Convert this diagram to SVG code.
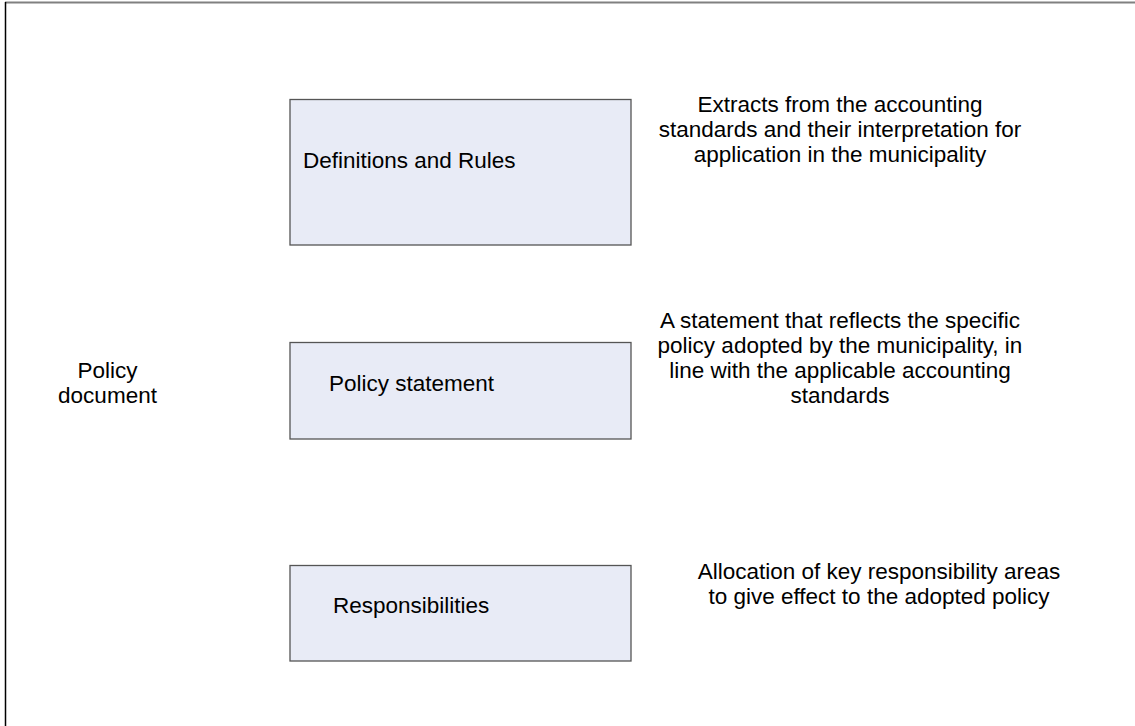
<svg xmlns="http://www.w3.org/2000/svg" width="1135" height="726" viewBox="0 0 1135 726">
<style>
.box{fill:#E8EBF6;stroke:#555;stroke-width:1.3}
text{font-family:"Liberation Sans",Arial,sans-serif;font-size:22.5px;fill:#000}
.c{text-anchor:middle}
</style>
<rect x="0" y="0" width="1135" height="726" fill="#fff"/>
<g id="frame">
<line x1="5" y1="2.5" x2="1135" y2="2.5" stroke="#808080" stroke-width="2"/>
<line x1="5.5" y1="2" x2="5.5" y2="726" stroke="#000" stroke-width="1.5"/>
</g>
<g id="policy-document">
<text class="c" x="107.5" y="378">Policy</text>
<text class="c" x="107.5" y="403">document</text>
</g>
<g id="definitions">
<rect class="box" x="290" y="99.5" width="341" height="145.5"/>
<text x="303" y="168">Definitions and Rules</text>
</g>
<g id="policy-statement">
<rect class="box" x="290" y="342.5" width="341" height="96.5"/>
<text x="329" y="391">Policy statement</text>
</g>
<g id="responsibilities">
<rect class="box" x="290" y="565.5" width="341" height="95.5"/>
<text x="333" y="613">Responsibilities</text>
</g>
<g id="desc-definitions">
<text class="c" x="840" y="112">Extracts from the accounting</text>
<text class="c" x="840" y="137">standards and their interpretation for</text>
<text class="c" x="840" y="162">application in the municipality</text>
</g>
<g id="desc-policy">
<text class="c" x="840" y="328">A statement that reflects the specific</text>
<text class="c" x="840" y="353">policy adopted by the municipality, in</text>
<text class="c" x="840" y="378">line with the applicable accounting</text>
<text class="c" x="840" y="403">standards</text>
</g>
<g id="desc-responsibilities">
<text class="c" x="879" y="579">Allocation of key responsibility areas</text>
<text class="c" x="879" y="604">to give effect to the adopted policy</text>
</g>
<g id="connectors"></g>
</svg>
